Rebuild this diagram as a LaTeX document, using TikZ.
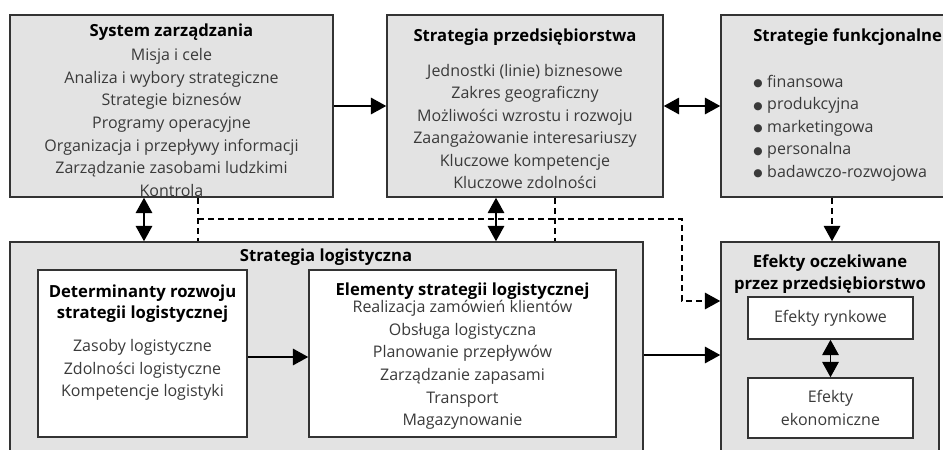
\documentclass[tikz,border=0pt]{standalone}
\usepackage{fontspec}
\setmainfont{Open Sans}
\newfontfamily\dejavu{DejaVu Sans}
\usetikzlibrary{arrows.meta,fit}
\definecolor{boxfill}{HTML}{E3E3E3}
\definecolor{boxline}{HTML}{333333}
\definecolor{itemtxt}{HTML}{3A3A3A}
\newcommand\blt{{\dejavu\fontsize{8}{8}\selectfont\raisebox{0.5pt}{●}}\hspace{3.5pt}}
\tikzset{
  box/.style={draw=boxline, line width=1.2pt, fill=boxfill, inner sep=0pt},
  wbox/.style={draw=boxline, line width=1.2pt, fill=white, inner sep=0pt},
  ttl/.style={font=\fontsize{12.5}{16}\selectfont\bfseries, text=black, inner sep=0pt, align=center},
  items/.style={font=\fontsize{12}{16.9}\selectfont, text=itemtxt, inner sep=0pt, align=center},
  litems/.style={font=\fontsize{12}{16.9}\selectfont, text=itemtxt, inner sep=0pt, align=left},
  arr/.style={line width=0.8pt, -{Triangle[length=11.5pt,width=12.5pt]}},
  dbl/.style={line width=0.8pt, {Triangle[length=11.5pt,width=12.5pt]}-{Triangle[length=11.5pt,width=12.5pt]}},
  darr/.style={line width=0.8pt, dash pattern=on 4.5pt off 3pt, -{Triangle[length=11.5pt,width=12.5pt]}},
  dln/.style={line width=0.8pt, dash pattern=on 4.5pt off 3pt},
}
\begin{document}
\begin{tikzpicture}[x=0.75pt,y=-0.75pt]
\useasboundingbox (0,0) rectangle (943,450);
% boxes
\node[box, fit={(10,15) (333,197)}] (s1) {};
\node[box, fit={(387,15) (663,197)}] (s2) {};
\node[box, fit={(721,15) (955,197)}] (s3) {};
\node[box, fit={(10,242) (643,470)}] (sl) {};
\node[box, fit={(721,242) (939,470)}] (ef) {};
\node[wbox, fit={(38,270) (247,437)}] (det) {};
\node[wbox, fit={(309,270) (616,437)}] (el) {};
\node[wbox, fit={(748,297) (913,339)}] (ryn) {};
\node[wbox, fit={(748,378) (913,438)}] (eko) {};
% texts
\node[ttl] (s1t) at (171.5,32) {System zarządzania};
\node[items] (s1i) at (171.5,122.5) {Misja i cele\\Analiza i wybory strategiczne\\Strategie biznesów\\Programy operacyjne\\Organizacja i przepływy informacji\\Zarządzanie zasobami ludzkimi\\Kontrola};
\node[ttl] (s2t) at (525,37) {Strategia przedsiębiorstwa};
\node[items] (s2i) at (525,126.5) {Jednostki (linie) biznesowe\\Zakres geograficzny\\Możliwości wzrostu i rozwoju\\Zaangażowanie interesariuszy\\Kluczowe kompetencje\\Kluczowe zdolności};
\node[ttl, anchor=west] (s3t) at (753,37) {Strategie funkcjonalne};
\node[litems, anchor=west] (s3i) at (753,128) {\blt finansowa\\\blt produkcyjna\\\blt marketingowa\\\blt personalna\\\blt badawczo-rozwojowa};
\node[ttl] (slt) at (326,257) {Strategia logistyczna};
\node[ttl] (dett) at (142.5,303.5) {Determinanty rozwoju\\strategii logistycznej};
\node[items] (deti) at (142.5,370) {Zasoby logistyczne\\Zdolności logistyczne\\Kompetencje logistyki};
\node[ttl] (elt) at (462.5,291) {Elementy strategii logistycznej};
\node[items] (eli) at (462.5,365) {Realizacja zamówień klientów\\Obsługa logistyczna\\Planowanie przepływów\\Zarządzanie zapasami\\Transport\\Magazynowanie};
\node[ttl] (eft) at (830,274) {Efekty oczekiwane\\przez przedsiębiorstwo};
\node[items] (rynt) at (ryn) {Efekty rynkowe};
\node[items] (ekot) at (eko) {Efekty\\ekonomiczne};
% connectors
\coordinate (xa) at (144,0);
\coordinate (xb) at (496,0);
\coordinate (xc) at (198,0);
\coordinate (xd) at (555,0);
\coordinate (xf) at (832,0);
\coordinate (yb) at (0,301);
\coordinate (yc) at (0,357);
\coordinate (yd) at (0,355);
\coordinate (bend1) at (198,219);
\coordinate (bend2) at (682,219);
\coordinate (bend3) at (682,301);
\draw[arr] (s1.east) -- (s2.west);
\draw[dbl] (s2.east) -- (s3.west);
\draw[dbl] (s1.south -| xa) -- (sl.north -| xa);
\draw[dbl] (s2.south -| xb) -- (sl.north -| xb);
\draw[dln] (s1.south -| xc) -- (sl.north -| xc);
\draw[dln] (s2.south -| xd) -- (sl.north -| xd);
\draw[darr] (bend1) -- (bend2) -- (bend3) -- (ef.west |- yb);
\draw[darr] (s3.south -| xf) -- (ef.north -| xf);
\draw[arr] (det.east |- yc) -- (el.west |- yc);
\draw[arr] (sl.east |- yd) -- (ef.west |- yd);
\draw[dbl] (ryn.south) -- (eko.north);
\end{tikzpicture}
\end{document}
